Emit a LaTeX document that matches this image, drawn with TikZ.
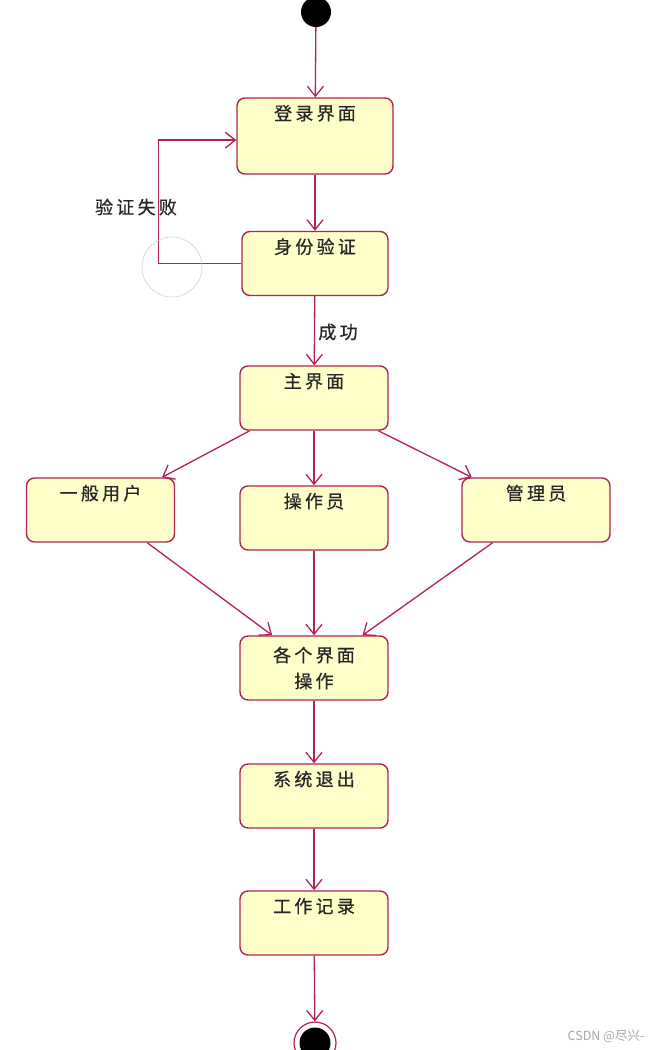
\documentclass[tikz,border=0pt]{standalone}
\usepackage{fontspec}
\newfontfamily\cjk{Noto Sans CJK SC}[LetterSpace=18, FakeBold=0.6]
\newfontfamily\marksf{Noto Sans CJK SC}
\usetikzlibrary{arrows.meta}
\definecolor{umlred}{RGB}{178,34,82}
\definecolor{umlyellow}{RGB}{255,255,202}

\begin{document}
\begin{tikzpicture}[x=1pt, y=-1pt,
		statebox/.style={draw=umlred, fill=umlyellow, line width=1.4pt, rounded corners=8pt,
			minimum width=148pt, inner xsep=0pt, inner ysep=4pt, text=black!85,
			font=\cjk\fontsize{18}{26}\selectfont},
		state/.style={statebox, text height=18pt, text depth=38pt},
		flow/.style={draw=umlred, line width=1.3pt, -{Straight Barb[length=10pt, width=16pt]}},
		guard/.style={text=black!85, font=\cjk\fontsize{18}{26}\selectfont}]
		%%%%% START %%%%%
		
		\useasboundingbox (0, 0) rectangle (650, 1050);
		
		\node[circle, fill=black, minimum size=30pt, inner sep=0pt] (start) at (316, 12) {};
		
		\node[state, minimum width=156pt, text depth=50pt] (login) at (315, 136) {登录界面};
		\node[state, minimum width=146pt] (auth) at (315, 263.5) {身份验证};
		\node[state] (main) at (314, 398) {主界面};
		
		\node[state] (user) at (100.5, 510) {一般用户};
		\node[state] (oper) at (314, 518) {操作员};
		\node[state] (admin) at (536, 510) {管理员};
		
		\node[statebox, align=center, minimum height=64pt] (ops) at (314, 668) {各个界面\\操作};
		\node[state] (quit) at (314, 796) {系统退出};
		\node[state] (record) at (314, 923) {工作记录};
		
		\node[circle, draw=umlred, line width=1.2pt, fill=white, minimum size=42pt, inner sep=0pt] (stop) at (315, 1043) {};
		\fill[black] (stop.center) circle (15.5);
		
		\draw[flow] (start) -- (login);
		\draw[flow] (login) -- (auth);
		\draw[flow] (auth.west) -- ++(-83, 0) |- (login.183);
		\node[guard] (fail) at (136, 207) {验证失败};
		\draw[gray!35, line width=0.6pt] (172, 267) circle (30);
		
		\draw[flow] (auth) -- (main);
		\node[guard] (ok) at (338, 332) {成功};
		
		\draw[flow] (main.207) -- (user.28);
		\draw[flow] (main) -- (oper);
		\draw[flow] (main.-27) -- (admin.153);
		
		\draw[flow] (user.-35) -- (ops.142);
		\draw[flow] (oper) -- (ops);
		\draw[flow] (admin.-143) -- (ops.34);
		
		\draw[flow] (ops) -- (quit);
		\draw[flow] (quit) -- (record);
		\draw[flow] (record) -- (stop);
		
		\node[gray!70, font=\marksf\fontsize{12.5}{14}\selectfont] (mark) at (606, 1036) {CSDN @尽兴-};
		
		%%%%% END %%%%%
	\end{tikzpicture}
\end{document}
